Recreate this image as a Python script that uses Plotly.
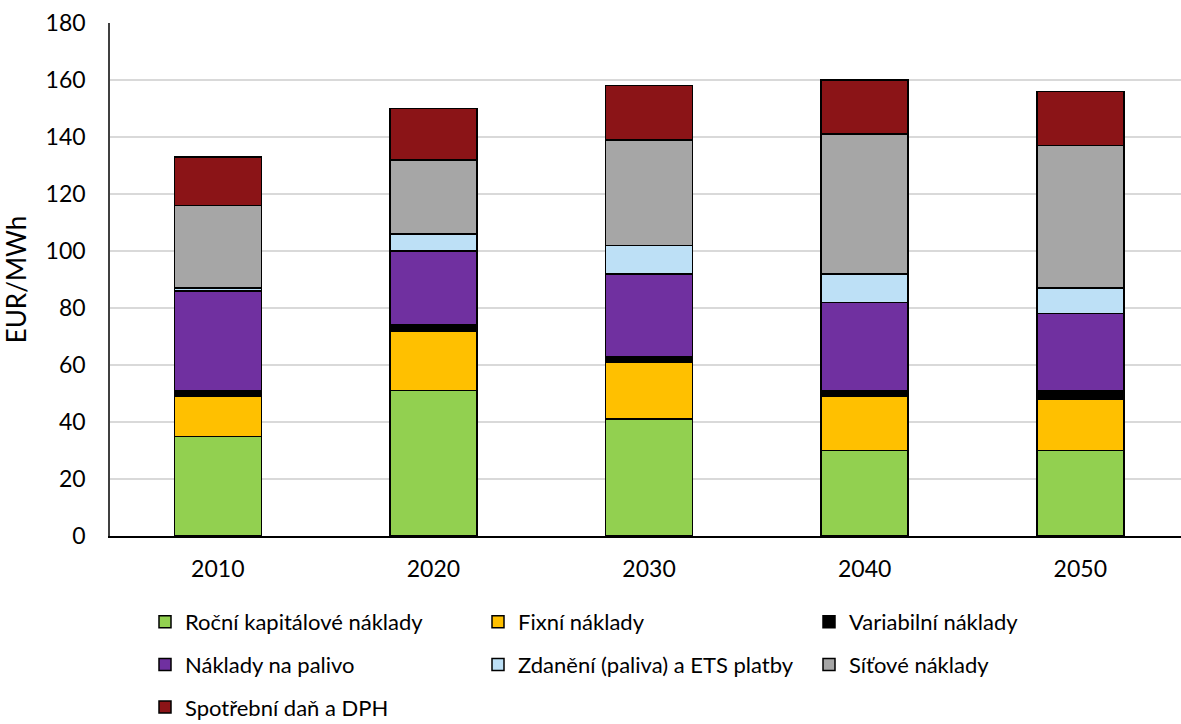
import plotly.graph_objects as go

years = ["2010", "2020", "2030", "2040", "2050"]

kapitalove = [35, 51, 41, 30, 30]
fixni = [14, 21, 20, 19, 18]
variabilni = [2, 2, 2, 2, 3]
palivo = [35, 26, 29, 31, 27]
zdaneni = [1, 6, 10, 10, 9]
sitove = [29, 26, 37, 49, 50]
spotrebni = [17, 18, 19, 19, 19]

series = [
    ("Roční kapitálové náklady", kapitalove, "#92d050", "legend"),
    ("Fixní náklady", fixni, "#ffc000", "legend2"),
    ("Variabilní náklady", variabilni, "#000000", "legend3"),
    ("Náklady na palivo", palivo, "#7030a0", "legend"),
    ("Zdanění (paliva) a ETS platby", zdaneni, "#bde0f6", "legend2"),
    ("Síťové náklady", sitove, "#a6a6a6", "legend3"),
    ("Spotřební daň a DPH", spotrebni, "#8b1417", "legend"),
]

FONT = "Lato"
FS = 22
TICK_FS = 23
W, H = 1181, 724
ML, MR, MT, MB = 110, 0, 23, 188
PW, PH = W - ML - MR, H - MT - MB

fig = go.Figure()
for name, vals, color, leg in series:
    fig.add_trace(go.Bar(
        x=years, y=vals, name=name,
        marker=dict(color=color, line=dict(color="#000000", width=1.5)),
        legend=leg, legendgroup=name,
    ))

def legend_at(px, py):
    # place a legend column by pixel position of its top-left corner
    return dict(
        x=(px - ML) / PW, y=(H - MB - py) / PH,
        xanchor="left", yanchor="top", orientation="v",
        font=dict(family=FONT, size=FS, color="#000000"),
        tracegroupgap=11, bgcolor="rgba(0,0,0,0)", itemwidth=30,
        traceorder="grouped",
    )

fig.update_layout(
    width=W, height=H,
    paper_bgcolor="white", plot_bgcolor="white",
    margin=dict(l=ML, r=MR, t=MT, b=MB, autoexpand=False),
    barmode="stack", bargap=0.5965,
    font=dict(family=FONT, size=FS, color="#000000"),
    xaxis=dict(
        range=[-0.5, 4.467],
        showline=True, linecolor="#000000", linewidth=1.5,
        ticks="", showgrid=False, automargin=False,
        tickfont=dict(size=TICK_FS), ticklabelstandoff=12,
    ),
    yaxis=dict(
        range=[0, 180], dtick=20, tick0=0,
        showline=True, linecolor="#404040", linewidth=1.5,
        gridcolor="#d9d9d9", gridwidth=1.5, zeroline=False,
        ticks="", automargin=False,
        tickfont=dict(size=TICK_FS), ticklabelstandoff=18,
        title=dict(text="EUR/MWh", standoff=14),
    ),
    legend=legend_at(145, 601),
    legend2=legend_at(478, 601),
    legend3=legend_at(809, 601),
)

fig.write_html("out.html")
